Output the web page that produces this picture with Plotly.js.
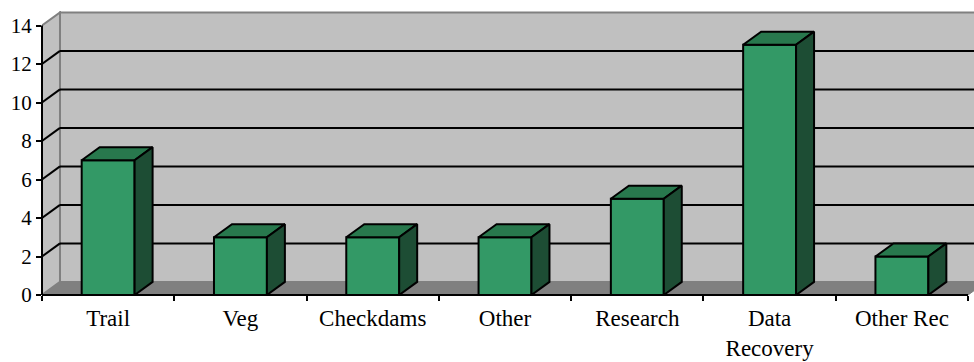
<!DOCTYPE html>
<html>
<head>
<meta charset="utf-8">
<script src="https://cdn.plot.ly/plotly-3.0.1.min.js"></script>
<style>html,body{margin:0;padding:0;background:#fff}#chart{width:974px;height:362px}</style>
</head>
<body>
<div id="chart"></div>
<script>
// ---- data ----
const categories = ['Trail', 'Veg', 'Checkdams', 'Other', 'Research', 'Data<br>Recovery', 'Other Rec'];
const values = [7, 3, 3, 3, 5, 13, 2];
const yTickVals = [0, 2, 4, 6, 8, 10, 12, 14];
const yTickText = ['0', '2', '4', '6', '8', '10', '12', '14'];

// ---- geometry / style (not data) ----
const xMin = -0.5, xMax = 6.545;
const yMax = 14.753;
const wallTop = 14;
const depthX = 0.136, depthY = 0.68;
const barHalf = 0.2;
const front = '#339966', topCol = '#28784D', sideCol = '#1D4D34';
const wallCol = '#C0C0C0', floorCol = '#808080', edgeCol = '#808080';
const font = '"Liberation Serif", "Times New Roman", serif';

const n = categories.length;
const centers = categories.map((_, i) => i);
const bounds = [];
for (let i = 0; i <= n; i++) bounds.push(i - 0.5);
const lastB = bounds[bounds.length - 1];

// top and side faces
const topX = [], topY = [], sideX = [], sideY = [];
values.forEach((v, i) => {
  const l = i - barHalf, r = i + barHalf;
  topX.push(l, l + depthX, r + depthX, r, l, null);
  topY.push(v, v + depthY, v + depthY, v, v, null);
  sideX.push(r, r + depthX, r + depthX, r, r, null);
  sideY.push(0, depthY, v + depthY, v, 0, null);
});

const traces = [
  {type: 'bar', x: centers, y: values, width: 2 * barHalf,
   marker: {color: front, line: {color: '#000', width: 2}}, hoverinfo: 'skip', showlegend: false},
  {type: 'scatter', x: topX, y: topY, mode: 'lines', fill: 'toself', fillcolor: topCol,
   line: {color: '#000', width: 2}, hoverinfo: 'skip', showlegend: false},
  {type: 'scatter', x: sideX, y: sideY, mode: 'lines', fill: 'toself', fillcolor: sideCol,
   line: {color: '#000', width: 2}, hoverinfo: 'skip', showlegend: false},
  {type: 'scatter', x: centers, y: centers.map(() => null), xaxis: 'x2', yaxis: 'y',
   mode: 'markers', hoverinfo: 'skip', showlegend: false}
];

const wx0 = xMin + depthX;
const shapes = [];
// back wall
shapes.push({type: 'path', layer: 'below', xref: 'x', yref: 'y',
  path: `M${wx0},${depthY} L${xMax + 1},${depthY} L${xMax + 1},${wallTop + depthY} L${wx0},${wallTop + depthY} Z`,
  fillcolor: wallCol, line: {color: edgeCol, width: 2}});
// side wall
shapes.push({type: 'path', layer: 'below', xref: 'x', yref: 'y',
  path: `M${xMin},0 L${wx0},${depthY} L${wx0},${wallTop + depthY} L${xMin},${wallTop} Z`,
  fillcolor: wallCol, line: {color: edgeCol, width: 2}});
// floor
shapes.push({type: 'path', layer: 'below', xref: 'x', yref: 'y',
  path: `M${xMin},0 L${wx0},${depthY} L${lastB + depthX},${depthY} L${lastB},0 Z`,
  fillcolor: floorCol, line: {color: edgeCol, width: 1}});
// gridlines on back wall and side wall
yTickVals.forEach(v => {
  if (v === 0 || v === wallTop) return;
  shapes.push({type: 'line', layer: 'below', xref: 'x', yref: 'y',
    x0: wx0, x1: xMax + 1, y0: v + depthY, y1: v + depthY, line: {color: '#000', width: 2}});
  shapes.push({type: 'line', layer: 'below', xref: 'x', yref: 'y',
    x0: xMin, x1: wx0, y0: v, y1: v + depthY, line: {color: '#000', width: 2}});
});
// axis lines (domain refs so they are not clipped at the plot edge)
shapes.push({type: 'line', layer: 'above', xref: 'x domain', yref: 'y domain',
  x0: 0, x1: 0, y0: 0, y1: wallTop / yMax, line: {color: '#000', width: 2}});
shapes.push({type: 'line', layer: 'above', xref: 'x domain', yref: 'y domain',
  x0: 0, x1: (lastB - xMin) / (xMax - xMin), y0: 0, y1: 0, line: {color: '#000', width: 2}});

const layout = {
  width: 974, height: 362,
  margin: {l: 42, r: 0, t: 11, b: 67, pad: 0},
  paper_bgcolor: '#fff', plot_bgcolor: '#fff',
  showlegend: false,
  bargap: 0,
  font: {family: font, color: '#000'},
  xaxis: {range: [xMin, xMax], tickmode: 'array', tickvals: bounds, ticktext: bounds.map(() => ''),
    ticks: 'outside', ticklen: 5, tickwidth: 2, tickcolor: '#000',
    showgrid: false, zeroline: false, showline: false, fixedrange: true},
  xaxis2: {overlaying: 'x', anchor: 'y', side: 'bottom', range: [xMin, xMax],
    tickmode: 'array', tickvals: centers, ticktext: categories, ticks: '',
    showgrid: false, zeroline: false, showline: false, fixedrange: true,
    tickfont: {family: font, size: 23, color: '#000'}, ticklabelstandoff: 7},
  yaxis: {range: [0, yMax], tickmode: 'array', tickvals: yTickVals, ticktext: yTickText,
    ticks: 'outside', ticklen: 5, tickwidth: 2, tickcolor: '#000',
    showgrid: false, zeroline: false, showline: false, fixedrange: true,
    tickfont: {family: font, size: 21, color: '#000'}},
  shapes: shapes
};

Plotly.newPlot('chart', traces, layout, {displayModeBar: false, staticPlot: true});
</script>
</body>
</html>
